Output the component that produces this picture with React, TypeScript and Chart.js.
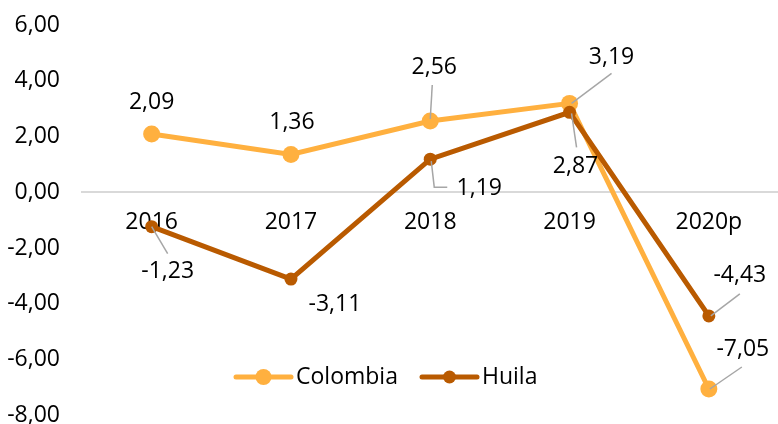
import React, { useEffect, useRef } from "react";
import { Chart, registerables } from "chart.js";

Chart.register(...registerables);

const categories = ["2016", "2017", "2018", "2019", "2020p"];
const colombia = [2.09, 1.36, 2.56, 3.19, -7.05];
const huila = [-1.23, -3.11, 1.19, 2.87, -4.43];
const yTicks = [-8, -6, -4, -2, 0, 2, 4, 6];

const FONT = "'Open Sans', 'Noto Sans', sans-serif";
const FONT_SIZE = 23;
const COLOMBIA_COLOR = "#FFB03F";
const HUILA_COLOR = "#B95A00";
const LEADER_COLOR = "#A6A6A6";

// label placement (pixel offsets relative to each point) and leader line paths
const colombiaLabelLayout = [
  { dx: 0, dy: -32, leader: null },
  { dx: 1, dy: -32, leader: null },
  { dx: 4, dy: -53, leader: [[0, -2], [2, -36]] },
  { dx: 42, dy: -46, leader: [[2, 0], [42, -30]] },
  { dx: 34, dy: -40, leader: [[1, 0], [33, -22]] },
];
const huilaLabelLayout = [
  { dx: 16, dy: 45, leader: [[0, 0], [16, 27]] },
  { dx: 44, dy: 25, leader: null },
  { dx: 49, dy: 29, leader: [[1, 2], [4, 28], [17, 28]] },
  { dx: 6, dy: 54, leader: [[2, 1], [7, 35]] },
  { dx: 31, dy: -40, leader: [[2, 0], [31, -22]] },
];

const fmt = (v: number) => v.toFixed(2).replace(".", ",");

const labelsPlugin = {
  id: "dataLabels",
  afterDatasetsDraw(chart: any) {
    const ctx = chart.ctx;
    const layouts = [colombiaLabelLayout, huilaLabelLayout];
    chart.data.datasets.forEach((ds: any, di: number) => {
      const meta = chart.getDatasetMeta(di);
      meta.data.forEach((pt: any, i: number) => {
        const lay = layouts[di][i];
        const x = pt.x;
        const y = pt.y;
        if (lay.leader) {
          ctx.save();
          ctx.strokeStyle = LEADER_COLOR;
          ctx.lineWidth = 1.5;
          ctx.beginPath();
          lay.leader.forEach((p: number[], k: number) => {
            if (k === 0) ctx.moveTo(x + p[0], y + p[1]);
            else ctx.lineTo(x + p[0], y + p[1]);
          });
          ctx.stroke();
          ctx.restore();
        }
        ctx.save();
        ctx.fillStyle = "#000";
        ctx.font = `${FONT_SIZE}px ${FONT}`;
        ctx.textAlign = "center";
        ctx.textBaseline = "middle";
        ctx.fillText(fmt(ds.data[i]), x + lay.dx, y + lay.dy);
        ctx.restore();
      });
    });
  },
};

const legendPlugin = {
  id: "customLegend",
  afterDraw(chart: any) {
    const ctx = chart.ctx;
    const items = [
      { text: "Colombia", color: COLOMBIA_COLOR, r: 8, lx: 236 },
      { text: "Huila", color: HUILA_COLOR, r: 6.5, lx: 422 },
    ];
    const y = 377;
    items.forEach((it) => {
      ctx.save();
      ctx.strokeStyle = it.color;
      ctx.lineWidth = 5;
      ctx.lineCap = "round";
      ctx.beginPath();
      ctx.moveTo(it.lx, y);
      ctx.lineTo(it.lx + 55, y);
      ctx.stroke();
      ctx.fillStyle = it.color;
      ctx.beginPath();
      ctx.arc(it.lx + 27.5, y, it.r, 0, Math.PI * 2);
      ctx.fill();
      ctx.fillStyle = "#000";
      ctx.font = `${FONT_SIZE}px ${FONT}`;
      ctx.textAlign = "left";
      ctx.textBaseline = "middle";
      ctx.fillText(it.text, it.lx + 60, y);
      ctx.restore();
    });
  },
};

export default function App() {
  const canvasRef = useRef<HTMLCanvasElement | null>(null);

  useEffect(() => {
    if (!canvasRef.current) return;
    const chart = new Chart(canvasRef.current, {
      type: "line",
      data: {
        labels: categories,
        datasets: [
          {
            label: "Colombia",
            data: colombia,
            order: 2,
            borderColor: COLOMBIA_COLOR,
            backgroundColor: COLOMBIA_COLOR,
            borderWidth: 5,
            pointRadius: 8.5,
            pointBorderWidth: 0,
            pointBackgroundColor: COLOMBIA_COLOR,
            tension: 0,
          },
          {
            label: "Huila",
            data: huila,
            order: 1,
            borderColor: HUILA_COLOR,
            backgroundColor: HUILA_COLOR,
            borderWidth: 5,
            pointRadius: 6.5,
            pointBorderWidth: 0,
            pointBackgroundColor: HUILA_COLOR,
            tension: 0,
          },
        ],
      },
      options: {
        animation: false,
        responsive: true,
        maintainAspectRatio: false,
        layout: { padding: 0 },
        plugins: {
          legend: { display: false },
          tooltip: { enabled: false },
        },
        scales: {
          x: {
            type: "category",
            position: { y: 0 } as any,
            offset: true,
            grid: { display: false },
            border: { display: true, color: "#D9D9D9", width: 2 },
            afterFit: (axis: any) => {
              axis.height = 0;
              axis.paddingLeft = 0;
              axis.paddingRight = 0;
            },
            ticks: {
              color: "#000",
              font: { family: FONT, size: FONT_SIZE },
              padding: 8,
              maxRotation: 0,
            },
          },
          y: {
            min: -8,
            max: 6,
            afterBuildTicks: (axis: any) => {
              axis.ticks = yTicks.map((v) => ({ value: v }));
            },
            afterFit: (axis: any) => {
              axis.width = 82;
              axis.paddingTop = 25;
              axis.paddingBottom = 7;
            },
            grid: { display: false, drawTicks: false },
            border: { display: false },
            ticks: {
              color: "#000",
              font: { family: FONT, size: FONT_SIZE },
              padding: 22,
              callback: (v: any) => fmt(Number(v)),
            },
          },
        },
      },
      plugins: [labelsPlugin, legendPlugin],
    });
    return () => chart.destroy();
  }, []);

  return (
    <div style={{ position: "absolute", left: 0, top: 0, width: 778, height: 424, overflow: "hidden" }}>
      <div style={{ position: "relative", width: 787, height: 424 }}>
        <canvas ref={canvasRef} />
      </div>
    </div>
  );
}
